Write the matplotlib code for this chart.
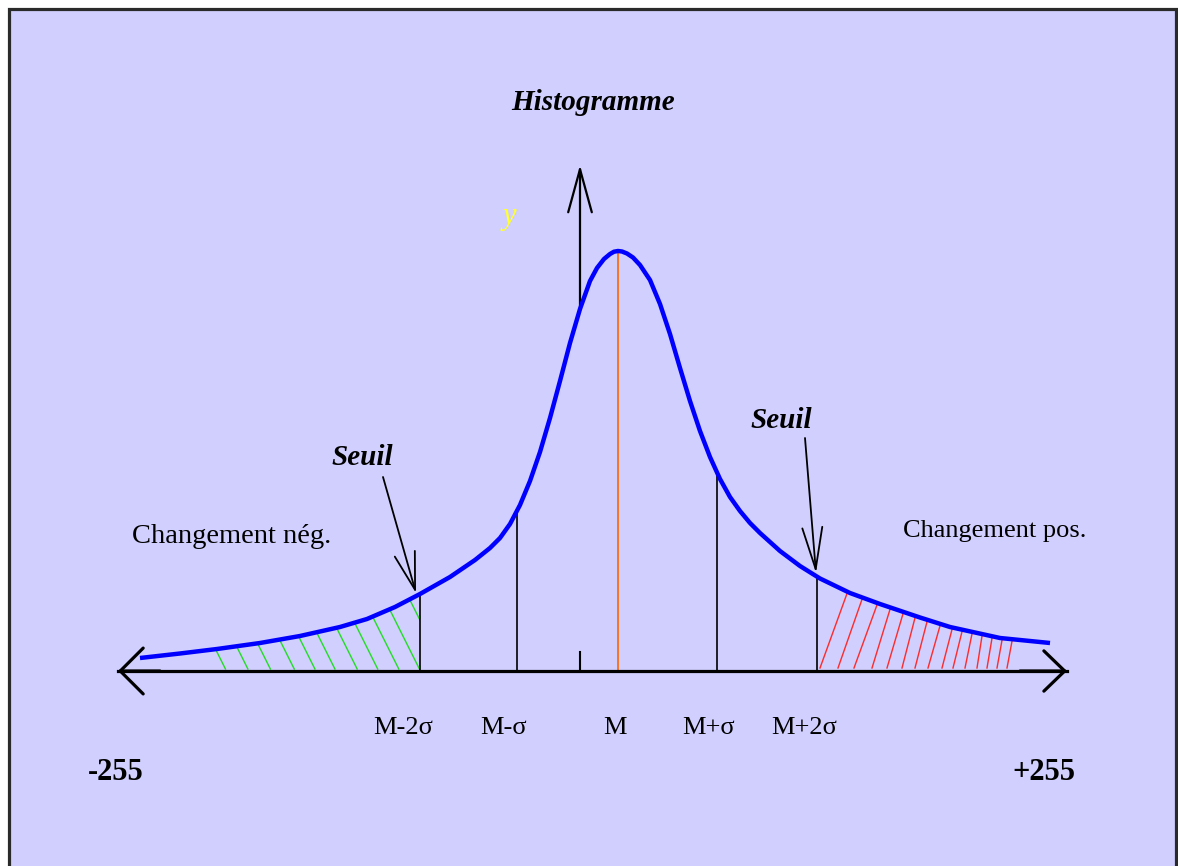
import numpy as np
import matplotlib.pyplot as plt
from matplotlib.patches import Rectangle

# courbe de l'histogramme (x en pixels, hauteur au-dessus de l'axe en pixels)
courbe_x = [140, 180, 217, 260, 300, 340, 367, 395, 420, 450, 475, 490, 500, 510, 520, 530,
            540, 550, 560, 570, 580, 590, 597, 604, 610, 614, 618, 622, 627, 633, 640, 650,
            660, 670, 680, 690, 700, 710, 720, 730, 740, 750, 760, 780, 800, 820, 850, 880,
            920, 950, 1000, 1050]
courbe_h = [13, 17.5, 22, 28, 35, 44, 52, 64, 77, 94, 111, 123, 133, 147, 166, 190,
            219, 253, 290, 328, 362, 390, 403, 412, 417, 419.3, 420, 419.5, 417.5, 413.5, 406, 391,
            367, 337, 303, 270, 240, 214, 192, 174, 160, 148, 138, 120, 105, 92.5, 78, 67,
            53.5, 44, 33, 28]

# repères verticaux
reperes = ['M-2σ', 'M-σ', 'M', 'M+σ', 'M+2σ']
reperes_x = [420, 517, 618, 717, 817]

# hachures (abscisses)
vert_haut_x = [216, 237, 258, 280, 299, 317, 337, 355, 373, 390, 410]
rouge_bas_x = [820, 838, 854, 872, 887, 902, 915, 928, 942, 953, 965, 977, 987, 997, 1007]
rouge_haut_x = [847, 862, 877, 890, 903, 915, 927, 940, 952, 962, 972, 982, 992, 1002, 1012]

fond = '#D0CFFE'
police = 'Liberation Serif'

fig = plt.figure(figsize=(11.78, 8.66), dpi=100)
ax = fig.add_axes([0, 0, 1, 1])
ax.set_xlim(0, 1178)
ax.set_ylim(-195, 671)
ax.axis('off')

# cadre
ax.add_patch(Rectangle((9, -230), 1167, 892, facecolor=fond, edgecolor='#2a2a2a', lw=2.3, zorder=0))

def h_courbe(x):
    return np.interp(x, courbe_x, courbe_h)

# hachures vertes (changement négatif)
clip_g = Rectangle((150, 0), 420 - 150, 300, transform=ax.transData)
for xt in vert_haut_x:
    yt = h_courbe(xt) - 1
    yb = 2
    xb = xt + 0.5 * (yt - yb)
    l, = ax.plot([xt, xb], [yt, yb], color='#22DD22', lw=1.0, zorder=2)
    l.set_clip_path(clip_g)

# hachures rouges (changement positif)
for xb, xt in zip(rouge_bas_x, rouge_haut_x):
    ax.plot([xb, xt], [3, h_courbe(xt) - 2], color='#FF2A2A', lw=1.0, zorder=2)

# lignes verticales
for nom, x in zip(reperes, reperes_x):
    couleur = '#FF6600' if nom == 'M' else 'black'
    ax.plot([x, x], [0, h_courbe(x)], color=couleur, lw=1.2, zorder=3)

# axe horizontal à double flèche
ax.plot([118, 1067], [0, 0], color='black', lw=2.3, zorder=4)
ax.annotate('', xy=(118, 0), xytext=(160, 0),
            arrowprops=dict(arrowstyle='->,head_length=1.65,head_width=1.65', lw=2.3, color='black',
                            shrinkA=0, shrinkB=0, mutation_scale=10), zorder=4)
ax.annotate('', xy=(1067, 0), xytext=(1020, 0),
            arrowprops=dict(arrowstyle='->,head_length=1.5,head_width=1.45', lw=2.3, color='black',
                            shrinkA=0, shrinkB=0, mutation_scale=10), zorder=4)

# axe vertical
ax.plot([580, 580], [0, 19], color='black', lw=1.5, zorder=3)
ax.annotate('', xy=(580, 506), xytext=(580, h_courbe(580)),
            arrowprops=dict(arrowstyle='->,head_length=3.1,head_width=0.85', lw=1.6, color='black',
                            shrinkA=0, shrinkB=0, mutation_scale=10), zorder=3)

# courbe
ax.plot(courbe_x, courbe_h, color='#0000FF', lw=3.2, solid_capstyle='butt',
        solid_joinstyle='round', zorder=5)

# flèches "Seuil"
ax.annotate('', xy=(416, h_courbe(416) + 3), xytext=(383, 194),
            arrowprops=dict(arrowstyle='->,head_length=2.7,head_width=0.75', lw=1.3, color='black',
                            shrinkA=0, shrinkB=0, mutation_scale=10), zorder=6)
ax.annotate('', xy=(816, h_courbe(816) + 3), xytext=(805, 233),
            arrowprops=dict(arrowstyle='->,head_length=3.0,head_width=0.72', lw=1.3, color='black',
                            shrinkA=0, shrinkB=0, mutation_scale=10), zorder=6)

# textes
ax.text(593, 671 - 110, 'Histogramme', fontsize=21, fontweight='bold', fontstyle='italic',
        family=police, ha='center', va='baseline')
ax.text(509, 671 - 224, 'y', fontsize=22, fontstyle='italic', family=police,
        color='#FFFF33', ha='center', va='baseline')
ax.text(362, 671 - 465, 'Seuil', fontsize=21, fontweight='bold', fontstyle='italic',
        family=police, ha='center', va='baseline')
ax.text(781, 671 - 428, 'Seuil', fontsize=21, fontweight='bold', fontstyle='italic',
        family=police, ha='center', va='baseline')
ax.text(232, 671 - 543, 'Changement nég.', fontsize=20.5, family=police,
        ha='center', va='baseline')
ax.text(995, 671 - 537, 'Changement pos.', fontsize=19, family=police,
        ha='center', va='baseline')

decal = [-17, -13, -3, -8, -13]
for nom, x, d in zip(reperes, reperes_x, decal):
    ax.text(x + d, 671 - 734, nom, fontsize=19, family=police, ha='center', va='baseline')

ax.text(116, 671 - 780, '-255', fontsize=22, fontweight='bold', family=police,
        ha='center', va='baseline')
ax.text(1044, 671 - 780, '+255', fontsize=22, fontweight='bold', family=police,
        ha='center', va='baseline')

fig.savefig('out.png', dpi=100, facecolor='white')
